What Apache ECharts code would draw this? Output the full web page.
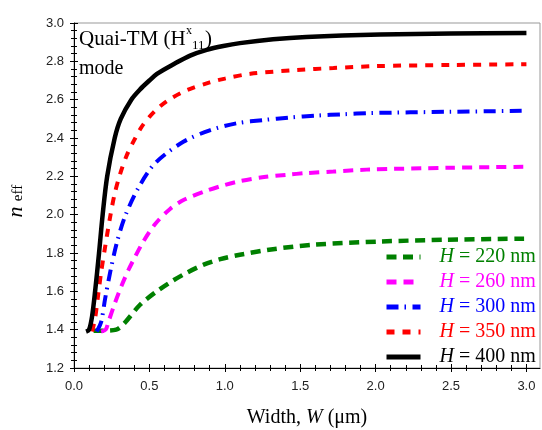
<!DOCTYPE html>
<html>
<head>
<meta charset="utf-8">
<script src="https://cdn.jsdelivr.net/npm/echarts@6/dist/echarts.min.js"></script>
<style>html,body{margin:0;padding:0;background:#fff}#c{width:542px;height:430px}</style>
</head>
<body>
<div id="c"></div>
<script>
// ---- data ----
var heights = ['220', '260', '300', '350', '400'];
var colors = ['#008000', '#ff00ff', '#0000ff', '#ff0000', '#000000'];

var w220 = [0.13, 0.20, 0.28, 0.33, 0.438, 0.549, 0.648, 0.75, 0.86, 0.97, 1.10, 1.32, 1.59, 2.03, 2.47, 3.0];
var n220 = [1.395, 1.395, 1.40, 1.43, 1.53, 1.60, 1.652, 1.698, 1.739, 1.768, 1.791, 1.82, 1.843, 1.86, 1.869, 1.875];

var w260 = [0.18, 0.21, 0.228, 0.272, 0.316, 0.36, 0.405, 0.46, 0.537, 0.637, 0.736, 0.88, 1.0, 1.10, 1.26, 1.41, 1.54, 1.72, 1.94, 2.5, 3.0];
var n260 = [1.39, 1.40, 1.44, 1.54, 1.63, 1.71, 1.78, 1.86, 1.95, 2.03, 2.08, 2.125, 2.155, 2.175, 2.196, 2.208, 2.217, 2.225, 2.235, 2.245, 2.25];

var w300 = [0.15, 0.18, 0.206, 0.24, 0.283, 0.338, 0.427, 0.54, 0.725, 0.90, 1.08, 1.26, 1.43, 1.61, 1.79, 1.96, 2.5, 3.0];
var n300 = [1.39, 1.44, 1.56, 1.70, 1.85, 1.99, 2.14, 2.27, 2.38, 2.44, 2.477, 2.494, 2.507, 2.517, 2.524, 2.53, 2.537, 2.542];

var w350 = [0.12, 0.14, 0.16, 0.18, 0.206, 0.24, 0.27, 0.305, 0.35, 0.40, 0.45, 0.50, 0.57, 0.64, 0.75, 0.90, 1.0, 1.17, 1.48, 1.72, 2.0, 2.5, 3.0];
var n350 = [1.39, 1.46, 1.58, 1.70, 1.83, 1.99, 2.11, 2.21, 2.31, 2.39, 2.46, 2.51, 2.565, 2.605, 2.65, 2.69, 2.71, 2.735, 2.755, 2.765, 2.775, 2.781, 2.785];

var w400 = [0.08, 0.10, 0.12, 0.14, 0.166, 0.19, 0.22, 0.27, 0.31, 0.38, 0.44, 0.50, 0.55, 0.66, 0.77, 0.88, 0.99, 1.10, 1.32, 1.54, 2.03, 2.5, 3.0];
var n400 = [1.39, 1.40, 1.47, 1.60, 1.80, 2.0, 2.2, 2.4, 2.5, 2.6, 2.655, 2.70, 2.735, 2.785, 2.83, 2.86, 2.88, 2.895, 2.915, 2.927, 2.94, 2.945, 2.948];

var xMajorTicks = [0, 0.5, 1.0, 1.5, 2.0, 2.5, 3.0];
var xMinorTicks = [0.1, 0.2, 0.3, 0.4, 0.6, 0.7, 0.8, 0.9, 1.1, 1.2, 1.3, 1.4, 1.6, 1.7, 1.8, 1.9, 2.1, 2.2, 2.3, 2.4, 2.6, 2.7, 2.8, 2.9];
var yMin = 1.2, yMax = 3.0, yStep = 0.2;

// ---- chart ----
var W = [w220, w260, w300, w350, w400];
var N = [n220, n260, n300, n350, n400];
var dashes = [[10, 6.5], [10, 7], [12, 6, 1.5, 6.5], [8, 8], 'solid'];
var widths = [4.5, 4, 4, 4, 4.5];

function zip(a, b) { return a.map(function (v, i) { return [v, b[i]]; }); }

var XMAX = 3.09;
var serif = 'Liberation Serif, Times New Roman, serif';
function xAx(vals, inside, len, main) {
  return {
    type: 'value', min: 0, max: XMAX, position: 'bottom', gridIndex: 0,
    interval: main ? 0.5 : 0.1,
    axisLine: { show: main, onZero: false, lineStyle: { color: '#000', width: 1 } },
    splitLine: { show: false },
    axisTick: { show: true, inside: inside, length: len, customValues: vals, lineStyle: { color: '#000', width: 1 } },
    minorTick: { show: false },
    axisLabel: main ? {
      show: true, customValues: xMajorTicks, margin: 12, fontSize: 13, color: '#222',
      fontFamily: 'Liberation Sans, Arial, sans-serif',
      formatter: function (v) { return v.toFixed(1); }
    } : { show: false },
    name: main ? '{a|Width, }{b|W}{a| (\u03bcm)}' : '',
    nameLocation: 'middle', nameGap: 40,
    nameTextStyle: {
      rich: {
        a: { fontFamily: serif, fontSize: 20, color: '#000' },
        b: { fontFamily: serif, fontSize: 20, fontStyle: 'italic', color: '#000' }
      }
    }
  };
}
function yAx(inside, main) {
  return {
    type: 'value', min: yMin, max: yMax, interval: yStep, position: 'left', gridIndex: 0,
    axisLine: { show: main, onZero: false, lineStyle: { color: '#000', width: 1 } },
    splitLine: { show: false },
    axisTick: { show: true, inside: inside, length: 4, lineStyle: { color: '#000', width: 1 } },
    minorTick: { show: true, splitNumber: 5, length: 3, lineStyle: { color: '#000', width: 1 } },
    axisLabel: main ? {
      show: true, margin: 10, fontSize: 13, color: '#222',
      fontFamily: 'Liberation Sans, Arial, sans-serif',
      formatter: function (v) { return v.toFixed(1); }
    } : { show: false }
  };
}

var series = heights.map(function (h, i) {
  return {
    name: h, type: 'line', xAxisIndex: 0, yAxisIndex: 0,
    data: zip(W[i], N[i]),
    showSymbol: false, symbol: 'none',
    smooth: 0.3,
    lineStyle: { color: colors[i], width: widths[i], type: dashes[i], cap: 'butt' },
    itemStyle: { color: colors[i] },
    z: 2 + i
  };
});

var legendData = heights.map(function (h, i) {
  return {
    name: h,
    lineStyle: { color: colors[i], width: 5, type: dashes[i] },
    textStyle: {
      color: colors[i],
      rich: {
        i: { fontFamily: serif, fontSize: 20, fontStyle: 'italic', color: colors[i] },
        r: { fontFamily: serif, fontSize: 20, color: colors[i] }
      }
    }
  };
});

var chart = echarts.init(document.getElementById('c'), null, { renderer: 'canvas' });
chart.setOption({
  animation: false,
  backgroundColor: '#fff',
  grid: { left: 74, right: 2, top: 23, bottom: 62, show: true, borderColor: '#999', borderWidth: 1,
          backgroundColor: 'transparent', containLabel: false, outerBoundsMode: 'none' },
  xAxis: [
    xAx(xMajorTicks, false, 4, true),
    xAx(xMajorTicks, true, 4, false),
    xAx(xMinorTicks, false, 3, false),
    xAx(xMinorTicks, true, 3, false)
  ],
  yAxis: [yAx(false, true), yAx(true, false)],
  legend: {
    orient: 'vertical', left: 384, top: 247,
    itemWidth: 34, itemHeight: 14, itemGap: 5,
    padding: 0,
    data: legendData,
    itemStyle: { opacity: 0, borderWidth: 0 },
    lineStyle: { width: 5 },
    textStyle: { fontFamily: serif, fontSize: 20, padding: [0, 0, 0, 14] },
    formatter: function (name) { return '{i|H}{r| = ' + name + ' nm}'; }
  },
  graphic: [
    { type: 'text', left: 79, top: 29, style: { text: 'Quai-TM (H', fontFamily: serif, fontSize: 21, fill: '#000' } },
    { type: 'text', left: 186, top: 25, style: { text: 'x', fontFamily: serif, fontSize: 12, fill: '#000' } },
    { type: 'text', left: 192, top: 39, style: { text: '11', fontFamily: serif, fontSize: 13, fill: '#000' } },
    { type: 'text', left: 205, top: 29, style: { text: ')', fontFamily: serif, fontSize: 21, fill: '#000' } },
    { type: 'text', left: 79, top: 59, style: { text: 'mode', fontFamily: serif, fontSize: 20, fill: '#000' } },
    { type: 'text', x: 16, y: 212, rotation: Math.PI / 2,
      style: { text: 'n', fontFamily: serif, fontSize: 22, fontStyle: 'italic', fill: '#000', align: 'center', verticalAlign: 'middle' } },
    { type: 'text', x: 18, y: 193, rotation: Math.PI / 2,
      style: { text: 'eff', fontFamily: serif, fontSize: 15, fill: '#000', align: 'center', verticalAlign: 'middle' } }
  ],
  series: series
});
</script>
</body>
</html>
